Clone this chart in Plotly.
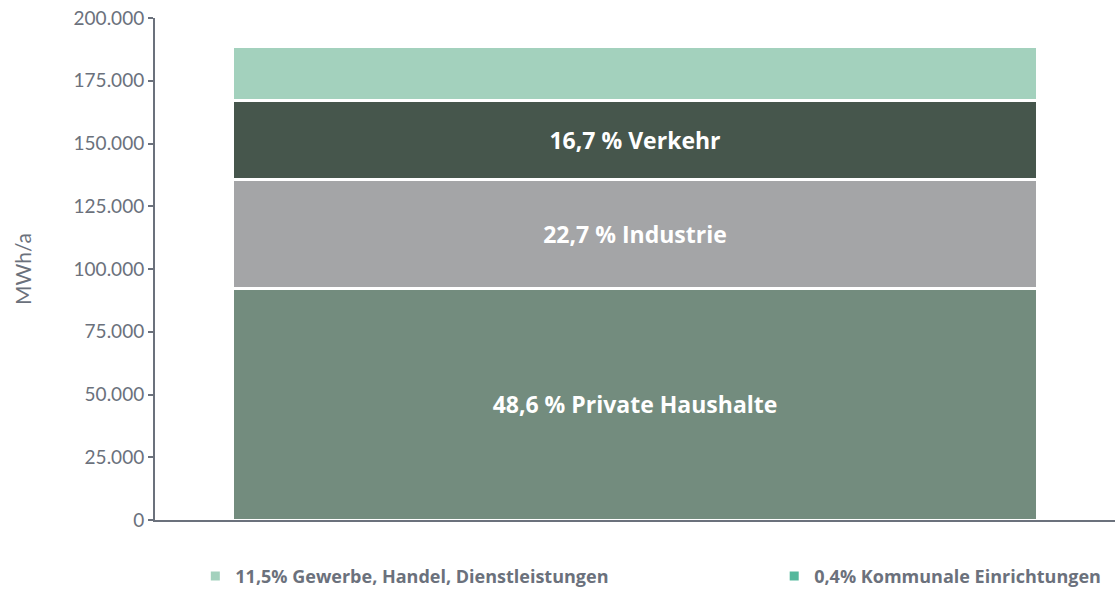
import plotly.graph_objects as go

category = ["Gesamt"]
series_names = [
    "48,6 % Private Haushalte",
    "22,7 % Industrie",
    "16,7 % Verkehr",
    "11,5% Gewerbe, Handel, Dienstleistungen",
    "0,4% Kommunale Einrichtungen",
]
bar_labels = ["48,6 % Private Haushalte", "22,7 % Industrie", "16,7 % Verkehr", "", ""]
values_private = [92400]
values_industrie = [43400]
values_verkehr = [31500]
values_gewerbe = [21150]
values_kommunal = [750]
series_values = [values_private, values_industrie, values_verkehr, values_gewerbe, values_kommunal]
colors = ["#738c7e", "#a4a5a7", "#46564c", "#a3d1bd", "#55b89c"]
show_legend = [False, False, False, True, True]
legend_ids = [None, None, None, "legend", "legend2"]

tick_vals = [0, 25000, 50000, 75000, 100000, 125000, 150000, 175000, 200000]
tick_text = ["0", "25.000", "50.000", "75.000", "100.000", "125.000", "150.000", "175.000", "200.000"]

fig = go.Figure()
for name, lab, vals, col, sl, lid in zip(series_names, bar_labels, series_values, colors, show_legend, legend_ids):
    kw = {}
    if lid:
        kw["legend"] = lid
    fig.add_trace(go.Bar(
        x=category, y=vals, name=name,
        marker=dict(color=col, line=dict(color="white", width=3)),
        text=[lab] if lab else None,
        textposition="inside", insidetextanchor="middle",
        textfont=dict(family="Open Sans", size=23, color="white", weight="bold"),
        constraintext="none",
        showlegend=sl, hoverinfo="skip", **kw,
    ))

axis_col = "#6b717c"
fig.update_layout(
    barmode="stack",
    bargap=0.162,
    width=1115, height=590,
    margin=dict(l=155, r=0, t=18, b=70, autoexpand=False),
    plot_bgcolor="white", paper_bgcolor="white",
    font=dict(family="Lato", color=axis_col),
    xaxis=dict(showticklabels=False, showline=True, linecolor=axis_col, linewidth=2,
               ticks="", showgrid=False, zeroline=False, automargin=False),
    yaxis=dict(range=[0, 200000], tickvals=tick_vals, ticktext=tick_text,
               showline=True, linecolor=axis_col, linewidth=2, ticks="outside",
               ticklen=5, tickcolor=axis_col, tickwidth=2, showgrid=False, zeroline=False,
               automargin=False,
               tickfont=dict(size=19, color=axis_col),
               title=dict(text="MWh/a", font=dict(size=21, color=axis_col), standoff=36)),
    legend=dict(orientation="h", x=0.042, xanchor="left", y=-0.112, yanchor="middle",
                font=dict(family="Open Sans", size=18, color=axis_col, weight="bold")),
    legend2=dict(orientation="h", x=0.645, xanchor="left", y=-0.112, yanchor="middle",
                 font=dict(family="Open Sans", size=18, color=axis_col, weight="bold")),
)
fig.write_html("out.html", config={"displayModeBar": False},
               post_script="document.body.style.margin='0';document.body.style.overflow='hidden';")
